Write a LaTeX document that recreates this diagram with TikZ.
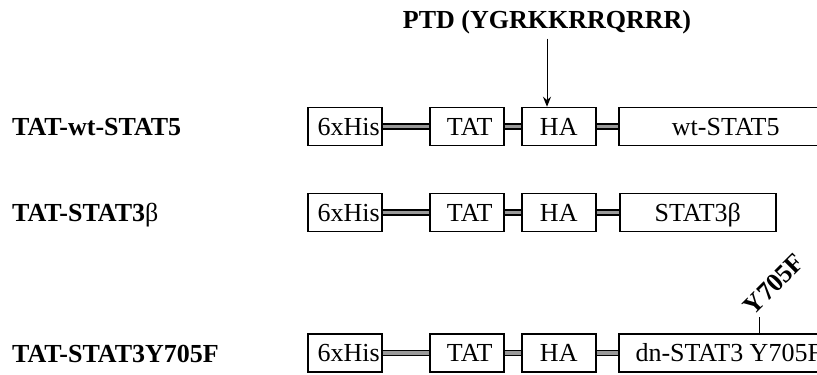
\documentclass[tikz,border=0pt]{standalone}
\usepackage{fontspec}
\setmainfont{Liberation Serif}
\usetikzlibrary{arrows.meta}
\begin{document}
\begin{tikzpicture}[x=1pt,y=-1pt,
  every node/.style={font=\fontsize{26}{31}\selectfont},
  dom/.style={draw, fill=white, line width=1.5pt, minimum height=38pt, inner sep=0pt,
    text height=17pt, text depth=0pt, anchor=west},
  small/.style={dom, minimum width=74pt},
  big/.style={dom, minimum width=214pt},
  mid/.style={dom, minimum width=156pt},
  link/.style={draw=black, line width=1.5pt, double=gray!80, double distance=3.6pt},
  lbl/.style={anchor=base west, inner sep=0pt, font=\fontsize{26}{31}\selectfont\bfseries},
  bold/.style={font=\fontsize{26}{31}\selectfont\bfseries, inner sep=0pt}]
\useasboundingbox (0,0) rectangle (817,375);
\clip (0,0) rectangle (817,375);

% left labels
\node[lbl] (l1) at (12,135) {TAT-wt-STAT5};
\node[lbl] (l2) at (12,221) {TAT-STAT3{\mdseries β}};
\node[lbl] (l3) at (12,362) {TAT-STAT3Y705F};

% row 1
\node[small] (h1) at (307,126.5) {\hspace*{8pt}6xHis};
\node[small] (t1) at (429,126.5) {\hspace*{6pt}TAT};
\node[small] (a1) at (521,126.5) {HA};
\node[big]   (s1) at (618,126.5) {wt-STAT5};
\draw[link] (h1.east) -- (t1.west);
\draw[link] (t1.east) -- (a1.west);
\draw[link] (a1.east) -- (s1.west);

% row 2
\node[small] (h2) at (307,212.5) {\hspace*{8pt}6xHis};
\node[small] (t2) at (429,212.5) {\hspace*{6pt}TAT};
\node[small] (a2) at (521,212.5) {HA};
\node[mid]   (s2) at (619,212.5) {STAT3β};
\draw[link] (h2.east) -- (t2.west);
\draw[link] (t2.east) -- (a2.west);
\draw[link] (a2.east) -- (s2.west);

% row 3
\node[small] (h3) at (307,353) {\hspace*{8pt}6xHis};
\node[small] (t3) at (429,353) {\hspace*{6pt}TAT};
\node[small] (a3) at (521,353) {HA};
\node[big]   (s3) at (618,353) {\hspace*{6pt}dn-STAT3 Y705F};
\draw[link] (h3.east) -- (t3.west);
\draw[link] (t3.east) -- (a3.west);
\draw[link] (a3.east) -- (s3.west);

% PTD arrow
\node[bold, anchor=base] (ptd) at (547,28) {PTD (YGRKKRRQRRR)};
\draw[line width=1pt, -{Stealth[length=10pt,width=8pt]}, shorten <=5pt]
  (ptd.south) -- (ptd.south |- a1.north);

% Y705F mark
\coordinate (tk) at (759,317);
\draw[line width=1pt] (tk) -- (tk |- s3.north);
\node[bold, rotate=45] (y7) at (774,284) {Y705F};
\end{tikzpicture}
\end{document}
